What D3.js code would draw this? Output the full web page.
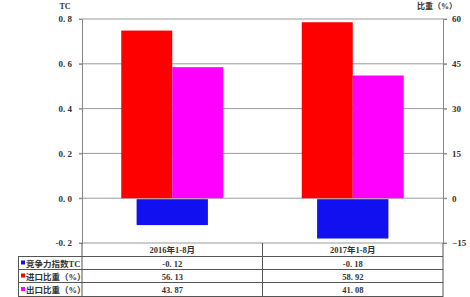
<!DOCTYPE html>
<html>
<head>
<meta charset="utf-8">
<script src="https://cdn.jsdelivr.net/npm/d3@7"></script>
<style>
  body { margin: 0; background: #fff; }
  text { font-family: "Liberation Serif", "Noto Sans CJK SC", serif; font-weight: bold; fill: #333; }
</style>
</head>
<body>
<div id="chart"></div>
<script>
// data
const categorias = ["2016年1-8月", "2017年1-8月"];
const indiceTC = [-0.12, -0.18];
const importacion = [56.13, 58.92];
const exportacion = [43.87, 41.08];
const etiquetasTC = ["-0. 12", "-0. 18"];
const etiquetasImp = ["56. 13", "58. 92"];
const etiquetasExp = ["43. 87", "41. 08"];
const ticksIzq = [-0.2, 0, 0.2, 0.4, 0.6, 0.8];
const ticksIzqTexto = ["-0. 2", "0. 0", "0. 2", "0. 4", "0. 6", "0. 8"];
const ticksDer = [-15, 0, 15, 30, 45, 60];
const series = ["竞争力指数TC", "进口比重（%）", "出口比重（%）"];
const colores = ["#1010f0", "#ff0000", "#ff00ff"];

const WIDTH = 470, HEIGHT = 297;
const PLOT = { LEFT: 82, RIGHT: 443, TOP: 19, BOTTOM: 243 };
const TABLA_LEFT = 18;
const FILA = [243, 257, 270, 283, 297];

const SVG = d3.select("#chart").append("svg")
  .attr("width", WIDTH).attr("height", HEIGHT);

const escalaX = d3.scaleBand()
  .domain(categorias)
  .range([PLOT.LEFT, PLOT.RIGHT]);

const escalaY = d3.scaleLinear()
  .domain([-0.2, 0.8])
  .range([PLOT.BOTTOM, PLOT.TOP]);

const escalaY2 = d3.scaleLinear()
  .domain([-15, 60])
  .range([PLOT.BOTTOM, PLOT.TOP]);

// gridlines
SVG.append("g")
  .selectAll("line")
  .data(ticksIzq)
  .join("line")
  .attr("x1", PLOT.LEFT - 3).attr("x2", PLOT.RIGHT + 4)
  .attr("y1", d => escalaY(d)).attr("y2", d => escalaY(d))
  .attr("stroke", "#9a9a9a").attr("stroke-width", 1);

// left axis
const ejeIzq = d3.axisLeft(escalaY)
  .tickValues(ticksIzq)
  .tickSize(3)
  .tickPadding(7)
  .tickFormat((d, i) => ticksIzqTexto[i]);
const gIzq = SVG.append("g")
  .attr("transform", `translate(${PLOT.LEFT},0)`)
  .call(ejeIzq);
gIzq.select(".domain").attr("stroke", "#888");
gIzq.selectAll(".tick line").attr("stroke", "#888");
gIzq.selectAll("text").style("font-size", "9px").attr("fill", "#333");

// right axis
const ejeDer = d3.axisRight(escalaY2)
  .tickValues(ticksDer)
  .tickSize(4)
  .tickPadding(5);
const gDer = SVG.append("g")
  .attr("transform", `translate(${PLOT.RIGHT},0)`)
  .call(ejeDer);
gDer.select(".domain").attr("stroke", "#888");
gDer.selectAll(".tick line").attr("stroke", "#888");
gDer.selectAll("text").style("font-size", "9px").attr("fill", "#333");

SVG.append("text").attr("x", 65).attr("y", 9)
  .attr("text-anchor", "middle").style("font-size", "8px").text("TC");
SVG.append("text").attr("x", 437).attr("y", 9)
  .attr("text-anchor", "middle").style("font-size", "8px").text("比重（%）");

// bars
const bw = escalaX.bandwidth();
const escalaGrupo = d3.scaleBand()
  .domain(["imp", "exp"])
  .range([bw * 0.2175, bw * 0.7825]);

const datos = categorias.map((c, i) => ({ cat: c, tc: indiceTC[i], imp: importacion[i], exp: exportacion[i] }));

const barras = SVG.append("g");

barras.selectAll(".imp")
  .data(datos)
  .join("rect")
  .attr("class", "imp")
  .attr("x", d => escalaX(d.cat) + escalaGrupo("imp"))
  .attr("width", escalaGrupo.bandwidth())
  .attr("y", d => escalaY2(d.imp))
  .attr("height", d => escalaY2(0) - escalaY2(d.imp))
  .attr("fill", colores[1]);

barras.selectAll(".exp")
  .data(datos)
  .join("rect")
  .attr("class", "exp")
  .attr("x", d => escalaX(d.cat) + escalaGrupo("exp"))
  .attr("width", escalaGrupo.bandwidth())
  .attr("y", d => escalaY2(d.exp))
  .attr("height", d => escalaY2(0) - escalaY2(d.exp))
  .attr("fill", colores[2]);

const anchoTC = bw * 0.395;
barras.selectAll(".tc")
  .data(datos)
  .join("rect")
  .attr("class", "tc")
  .attr("x", d => escalaX(d.cat) + (bw - anchoTC) / 2)
  .attr("width", anchoTC)
  .attr("y", escalaY(0) + 1)
  .attr("height", d => escalaY(d.tc) - escalaY(0) - 1)
  .attr("fill", colores[0]);

// data table
const tabla = SVG.append("g");
const colorLinea = "#555";

tabla.selectAll(".hline")
  .data(FILA.slice(1))
  .join("line")
  .attr("x1", TABLA_LEFT).attr("x2", PLOT.RIGHT)
  .attr("y1", d => d - 0.5).attr("y2", d => d - 0.5)
  .attr("stroke", colorLinea);

tabla.selectAll(".vline")
  .data([PLOT.LEFT, escalaX(categorias[1]), PLOT.RIGHT])
  .join("line")
  .attr("x1", d => d).attr("x2", d => d)
  .attr("y1", FILA[0]).attr("y2", HEIGHT)
  .attr("stroke", colorLinea);

tabla.append("line")
  .attr("x1", TABLA_LEFT + 0.5).attr("x2", TABLA_LEFT + 0.5)
  .attr("y1", FILA[1]).attr("y2", HEIGHT)
  .attr("stroke", colorLinea);

tabla.selectAll(".cabecera")
  .data(categorias)
  .join("text")
  .attr("x", d => escalaX(d) + bw / 2)
  .attr("y", (FILA[0] + FILA[1]) / 2 + 3)
  .attr("text-anchor", "middle")
  .style("font-size", "8.5px")
  .text(d => d);

const filas = [etiquetasTC, etiquetasImp, etiquetasExp];
filas.forEach((valores, r) => {
  const yc = (FILA[r + 1] + FILA[r + 2]) / 2;
  tabla.append("rect")
    .attr("x", TABLA_LEFT + 3).attr("y", yc - 3)
    .attr("width", 4).attr("height", 4)
    .attr("fill", colores[r]);
  tabla.append("text")
    .attr("x", TABLA_LEFT + 8).attr("y", yc + 3)
    .style("font-size", "8.5px")
    .text(series[r]);
  tabla.selectAll(".v" + r)
    .data(categorias)
    .join("text")
    .attr("x", d => escalaX(d) + bw / 2)
    .attr("y", yc + 3)
    .attr("text-anchor", "middle")
    .style("font-size", "8.5px")
    .text((d, i) => valores[i]);
});
</script>
</body>
</html>
